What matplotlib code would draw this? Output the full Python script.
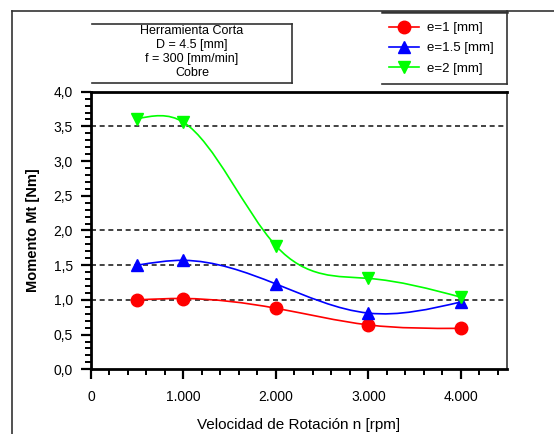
import numpy as np
import matplotlib
matplotlib.use("Agg")
import matplotlib.pyplot as plt
from matplotlib.lines import Line2D
from matplotlib.path import Path
from matplotlib.patches import PathPatch
from matplotlib.ticker import MultipleLocator, FixedLocator, FuncFormatter

plt.rcParams["font.family"] = ["Liberation Sans", "DejaVu Sans"]

# speeds in rpm and torque in Nm for each cutting depth
rpm = [500, 1000, 2000, 3000, 4000]
torque_e1 = [1.00, 1.02, 0.88, 0.64, 0.59]
torque_e15 = [1.50, 1.57, 1.23, 0.81, 0.97]
torque_e2 = [3.61, 3.56, 1.78, 1.31, 1.04]

series_labels = ["e=1 [mm]", "e=1.5 [mm]", "e=2 [mm]"]
info_lines = ["Herramienta Corta", "D = 4.5 [mm]", "f = 300 [mm/min]", "Cobre"]
grid_levels = [1.0, 1.5, 2.0, 3.5]

W, H = 554, 434


def spline_path(x, y):
    """Natural cubic spline through the points, as a chain of Bezier segments."""
    x = np.asarray(x, float)
    y = np.asarray(y, float)
    n = len(x)
    h = np.diff(x)
    A = np.zeros((n, n))
    b = np.zeros(n)
    A[0, 0] = A[-1, -1] = 1.0
    for i in range(1, n - 1):
        A[i, i - 1] = h[i - 1]
        A[i, i] = 2 * (h[i - 1] + h[i])
        A[i, i + 1] = h[i]
        b[i] = 6 * ((y[i + 1] - y[i]) / h[i] - (y[i] - y[i - 1]) / h[i - 1])
    M = np.linalg.solve(A, b)
    verts = [(x[0], y[0])]
    codes = [Path.MOVETO]
    for i in range(n - 1):
        hi = h[i]
        s = (y[i + 1] - y[i]) / hi
        m0 = s - hi * (2 * M[i] + M[i + 1]) / 6
        m1 = s + hi * (M[i] + 2 * M[i + 1]) / 6
        verts += [(x[i] + hi / 3, y[i] + hi * m0 / 3),
                  (x[i + 1] - hi / 3, y[i + 1] - hi * m1 / 3),
                  (x[i + 1], y[i + 1])]
        codes += [Path.CURVE4] * 3
    return Path(verts, codes)


fig = plt.figure(figsize=(W / 100, H / 100), dpi=100)
ax = fig.add_axes([91 / W, 1 - 369.3 / H, (507 - 91) / W, (369.3 - 91.7) / H])

for lvl in grid_levels:
    ax.axhline(lvl, color="#222222", lw=1.2, ls=(0, (3, 2.2)), zorder=1)

styles = [("#ff0000", "o", 9), ("#0000ff", "^", 8), ("#00ff00", "v", 8)]
handles = []
for vals, (col, mk, ms), lab in zip([torque_e1, torque_e15, torque_e2], styles, series_labels):
    ax.add_patch(PathPatch(spline_path(rpm, vals), fill=False, edgecolor=col, lw=1.2, zorder=2))
    ax.plot(rpm, vals, ls="none", marker=mk, ms=ms, color=col, zorder=3)
    handles.append(Line2D([], [], color=col, lw=1.2, marker=mk, ms=ms))

ax.set_xlim(0, 4500)
ax.set_ylim(0, 4.0)
ax.xaxis.set_major_locator(FixedLocator([0, 1000, 2000, 3000, 4000]))
ax.xaxis.set_minor_locator(MultipleLocator(200))
ax.yaxis.set_major_locator(MultipleLocator(0.5))
ax.yaxis.set_minor_locator(MultipleLocator(0.1))
ax.xaxis.set_major_formatter(FuncFormatter(lambda v, p: f"{int(v):,}".replace(",", ".")))
ax.yaxis.set_major_formatter(FuncFormatter(lambda v, p: f"{v:.1f}".replace(".", ",")))

ax.tick_params(which="major", direction="out", length=7, width=1.6, labelsize=10, colors="black")
ax.tick_params(which="minor", direction="out", length=4, width=1.4)
ax.tick_params(axis="x", pad=8)
ax.tick_params(axis="y", pad=6)

for side in ["left", "bottom", "top"]:
    ax.spines[side].set_linewidth(2.0)
ax.spines["right"].set_linewidth(1.3)
ax.spines["right"].set_color("#444444")

ax.set_xlabel("Velocidad de Rotación n [rpm]", fontsize=11, labelpad=10)
ax.set_ylabel("Momento Mt [Nm]", fontsize=10.5, fontweight="bold", labelpad=10)


def fig_line(x0, y0, x1, y1, lw=1.2, color="#333333"):
    fig.add_artist(Line2D([x0 / W, x1 / W], [1 - y0 / H, 1 - y1 / H], lw=lw, color=color))


# outer frame
fig_line(12, 10.7, W, 10.7)
fig_line(12, 10.7, 12, H)
# info box
fig_line(92, 24, 292, 24)
fig_line(92, 83.3, 292, 83.3)
fig_line(292, 24, 292, 83.3)
# legend box
fig_line(382, 11.5, 507, 11.5, lw=1.8)
fig_line(382, 84, 507, 84)
fig_line(507, 11, 507, 84)

for i, line in enumerate(info_lines):
    fig.text(192 / W, 1 - (30.5 + i * 14.2) / H, line, ha="center", va="center", fontsize=9)

fig.legend(handles, series_labels, loc="upper left", bbox_to_anchor=(389 / W, 1 - 22 / H),
           frameon=False, fontsize=9.5, handlelength=2.3, handletextpad=0.6,
           labelspacing=0.6, borderaxespad=0, borderpad=0)

fig.savefig("out.png", dpi=100)
